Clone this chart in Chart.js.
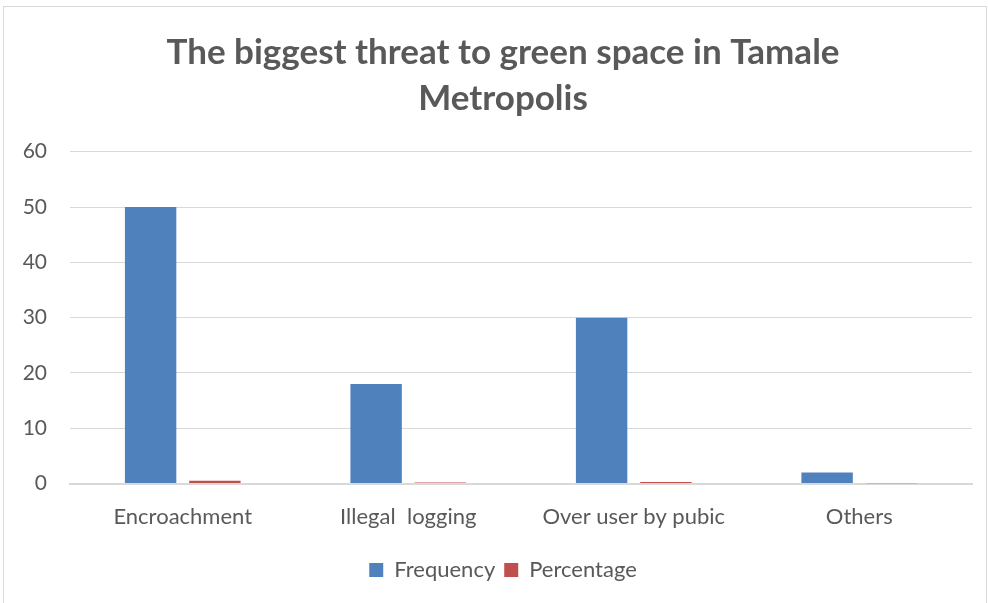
<!DOCTYPE html>
<html>
<head>
<meta charset="utf-8">
<script src="https://cdn.jsdelivr.net/npm/chart.js@4.4.0/dist/chart.umd.min.js"></script>
<style>
  html, body { margin: 0; padding: 0; background: #fff; }
  #box {
    position: absolute; left: 3px; top: 6px; width: 984px; height: 610px;
    border: 1px solid #d9d9d9; box-sizing: border-box;
  }
  #wrap { position: absolute; left: 0; top: 0; width: 988px; height: 603px; }
</style>
</head>
<body>
<div id="box"></div>
<div id="wrap"><canvas id="myChart"></canvas></div>
<script>
const threats = ['Encroachment', 'Illegal  logging', 'Over user by pubic', 'Others'];
const frequency = [50, 18, 30, 2];
const percentage = [0.5, 0.18, 0.3, 0.02];
const yTicks = [0, 10, 20, 30, 40, 50, 60];

(function() {
  const ctx = document.getElementById('myChart').getContext('2d');
  const font = 'Lato, "Open Sans", sans-serif';

  new Chart(ctx, {
    type: 'bar',
    data: {
      labels: threats,
      datasets: [
        { label: 'Frequency', data: frequency, backgroundColor: '#4f81bd' },
        { label: 'Percentage', data: percentage, backgroundColor: '#c0504d' }
      ]
    },
    options: {
      responsive: true,
      maintainAspectRatio: false,
      animation: false,
      layout: { padding: { left: 18, right: 0, top: 30, bottom: 12 } },
      datasets: { bar: { categoryPercentage: 0.57, barPercentage: 0.8 } },
      plugins: {
        title: {
          display: true,
          text: ['The biggest threat to green space in Tamale', 'Metropolis'],
          color: '#595959',
          font: { family: font, size: 35, weight: 'bold', lineHeight: 1.31 },
          padding: { top: 0, bottom: 30 }
        },
        legend: {
          position: 'bottom',
          labels: {
            color: '#595959',
            font: { family: font, size: 22 },
            boxWidth: 14, boxHeight: 14,
            padding: 9
          }
        },
        tooltip: { enabled: false }
      },
      scales: {
        x: {
          grid: { display: false, drawTicks: false },
          border: { color: '#d9d9d9', width: 2 },
          ticks: { color: '#595959', font: { family: font, size: 22 }, padding: 20 }
        },
        y: {
          min: yTicks[0], max: yTicks[yTicks.length - 1],
          afterBuildTicks: (axis) => { axis.ticks = yTicks.map(v => ({ value: v })); },
          afterFit: (axis) => { axis.width = 52; },
          grid: { color: '#d9d9d9', drawTicks: false },
          border: { display: false },
          ticks: { color: '#595959', font: { family: font, size: 21 }, padding: 23 }
        },
        // empty right-hand axis, only keeps a margin after the last category
        pad: {
          position: 'right',
          display: true,
          grid: { display: false, drawTicks: false },
          border: { display: false },
          ticks: { display: false },
          afterFit: (axis) => { axis.width = 16; }
        }
      }
    }
  });
})();
</script>
</body>
</html>
